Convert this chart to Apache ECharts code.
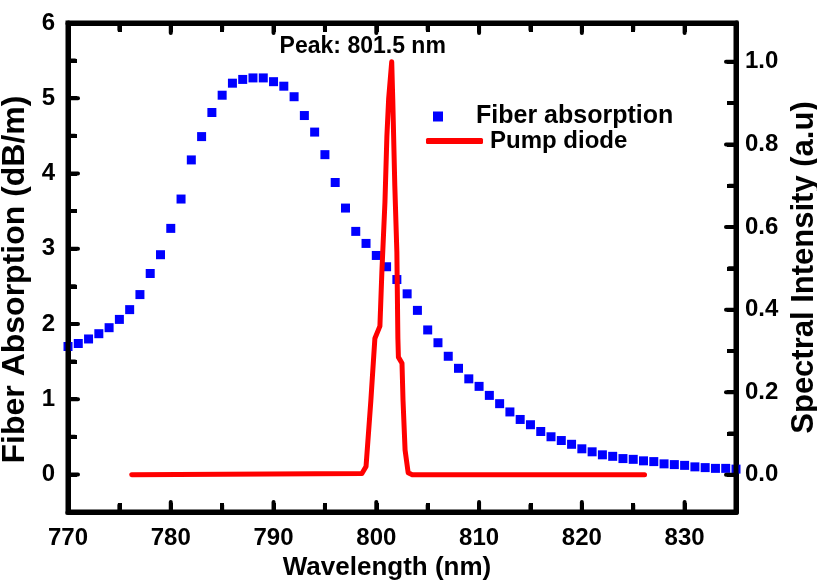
<!DOCTYPE html>
<html>
<head>
<meta charset="utf-8">
<script src="https://cdn.jsdelivr.net/npm/echarts@6/dist/echarts.min.js"></script>
<style>
  html, body { margin: 0; padding: 0; background: #fff; }
  #chart { width: 817px; height: 581px; }
</style>
</head>
<body>
<div id="chart"></div>
<script>
// Fiber absorption spectrum (dB/m), sampled every nm
const absWavelength = [
  770, 771, 772, 773, 774, 775, 776, 777, 778, 779,
  780, 781, 782, 783, 784, 785, 786, 787, 788, 789,
  790, 791, 792, 793, 794, 795, 796, 797, 798, 799,
  800, 801, 802, 803, 804, 805, 806, 807, 808, 809,
  810, 811, 812, 813, 814, 815, 816, 817, 818, 819,
  820, 821, 822, 823, 824, 825, 826, 827, 828, 829,
  830, 831, 832, 833, 834, 835
];
const absValue = [
  1.70, 1.74, 1.80, 1.87, 1.95, 2.06, 2.19, 2.39, 2.67, 2.92,
  3.27, 3.66, 4.18, 4.49, 4.81, 5.04, 5.20, 5.25, 5.27, 5.27,
  5.22, 5.16, 5.02, 4.77, 4.55, 4.25, 3.88, 3.54, 3.23, 3.07,
  2.91, 2.76, 2.59, 2.40, 2.18, 1.92, 1.75, 1.57, 1.41, 1.27,
  1.17, 1.05, 0.94, 0.83, 0.73, 0.66, 0.57, 0.50, 0.45, 0.40,
  0.34, 0.30, 0.26, 0.24, 0.21, 0.20, 0.18, 0.17, 0.14, 0.13,
  0.12, 0.10, 0.09, 0.08, 0.08, 0.07
];

// Pump diode emission spectrum (normalised)
const pumpWavelength = [
  776.2, 798.6, 799.0, 799.47, 799.86, 800.35, 800.54, 800.84, 801.03, 801.2,
  801.5, 801.6, 801.8, 802.0, 802.1, 802.15, 802.5, 802.6, 802.8, 803.1,
  803.5, 826.1
];
const pumpIntensity = [
  0.0, 0.003, 0.02, 0.18, 0.33, 0.36, 0.49, 0.66, 0.82, 0.91,
  1.0, 0.91, 0.70, 0.54, 0.33, 0.285, 0.27, 0.18, 0.06, 0.005,
  0.0, 0.0
];

// Labelled ticks and all tick marks (major + minor)
const xLabels = [770, 780, 790, 800, 810, 820, 830];
const xTicks = [770, 775, 780, 785, 790, 795, 800, 805, 810, 815, 820, 825, 830];
const leftLabels = [0, 1, 2, 3, 4, 5, 6];
const leftTicks = [0, 0.5, 1, 1.5, 2, 2.5, 3, 3.5, 4, 4.5, 5, 5.5, 6];
const rightLabels = [0, 0.2, 0.4, 0.6, 0.8, 1.0];
const rightTicks = [0, 0.1, 0.2, 0.3, 0.4, 0.5, 0.6, 0.7, 0.8, 0.9, 1.0];

const seriesNames = ['Fiber absorption', 'Pump diode'];
const axisTitles = {
  x: 'Wavelength (nm)',
  left: 'Fiber Absorption (dB/m)',
  right: 'Spectral Intensity (a.u)'
};

const FONT = "'Liberation Sans', Arial, Helvetica, sans-serif";
const BLACK = '#000';

const xRange = { min: 770, max: 835 };
const leftRange = { min: -0.5, max: 6 };
const rightRange = { min: -0.09, max: 1.094 };

const absData = absWavelength.map((w, i) => [w, absValue[i]]);
const pumpData = pumpWavelength.map((w, i) => [w, pumpIntensity[i]]);
let peakIdx = 0;
pumpIntensity.forEach((v, i) => { if (v > pumpIntensity[peakIdx]) peakIdx = i; });
const peakWl = pumpWavelength[peakIdx];

const labelStyle = { color: BLACK, fontFamily: FONT, fontWeight: 'bold', fontSize: 24 };
const titleStyle = { color: BLACK, fontFamily: FONT, fontWeight: 'bold' };

// Heavy plot frame with inward tick marks, positioned through the axis scales
function frameRenderer(side) {
  return function (params, api) {
    const cs = params.coordSys;
    const x0 = cs.x, x1 = cs.x + cs.width, y0 = cs.y, y1 = cs.y + cs.height;
    const children = [];
    const tick = (xa, ya, xb, yb) => children.push({
      type: 'line',
      shape: { x1: xa, y1: ya, x2: xb, y2: yb },
      style: { stroke: BLACK, lineWidth: 4, lineCap: 'round' }
    });
    if (side === 'left') {
      children.push({
        type: 'rect',
        shape: { x: x0, y: y0, width: cs.width, height: cs.height },
        style: { fill: 'none', stroke: BLACK, lineWidth: 5 }
      });
      xTicks.forEach(v => {
        const len = xLabels.indexOf(v) >= 0 ? 10 : 7;
        const px = api.coord([v, leftRange.min])[0];
        tick(px, y1, px, y1 - len);
        tick(px, y0, px, y0 + len);
      });
      leftTicks.forEach(v => {
        const len = leftLabels.indexOf(v) >= 0 ? 10 : 7;
        const py = api.coord([xRange.min, v])[1];
        tick(x0, py, x0 + len, py);
      });
    } else {
      rightTicks.forEach(v => {
        const len = rightLabels.indexOf(v) >= 0 ? 10 : 7;
        const py = api.coord([xRange.min, v])[1];
        tick(x1, py, x1 - len, py);
      });
    }
    return { type: 'group', children: children };
  };
}

const chart = echarts.init(document.getElementById('chart'));

chart.setOption({
  backgroundColor: '#fff',
  animation: false,
  grid: { left: 68, right: 81, top: 23, bottom: 69, outerBoundsMode: 'none' },
  legend: [
    {
      data: [seriesNames[0]],
      left: 433, top: 104, padding: 0,
      icon: 'rect', itemWidth: 10, itemHeight: 10,
      selectedMode: false,
      textStyle: { color: BLACK, fontFamily: FONT, fontWeight: 'bold', fontSize: 25, padding: [0, 0, 0, 28] }
    },
    {
      data: [seriesNames[1]],
      left: 426, top: 129, padding: 0,
      icon: 'roundRect', itemWidth: 57, itemHeight: 6,
      selectedMode: false,
      textStyle: { color: BLACK, fontFamily: FONT, fontWeight: 'bold', fontSize: 24, padding: [0, 0, 0, 2] }
    }
  ],
  xAxis: [
    {
      type: 'value', min: xRange.min, max: xRange.max, position: 'bottom',
      axisLine: { show: true, onZero: false, lineStyle: { color: BLACK, width: 5 } },
      axisTick: { show: true, inside: true, length: 9, customValues: xTicks, lineStyle: { color: BLACK, width: 4 } },
      axisLabel: Object.assign({ margin: 14, customValues: xLabels }, labelStyle),
      splitLine: { show: false },
      name: axisTitles.x, nameLocation: 'middle', nameGap: 36,
      nameTextStyle: Object.assign({ fontSize: 26, padding: [0, 30, 0, 0] }, titleStyle)
    },
    {
      type: 'value', min: xRange.min, max: xRange.max, position: 'top',
      axisLine: { show: true, onZero: false, lineStyle: { color: BLACK, width: 5 } },
      axisTick: { show: true, inside: true, length: 9, customValues: xTicks, lineStyle: { color: BLACK, width: 4 } },
      axisLabel: { show: false },
      splitLine: { show: false }
    }
  ],
  yAxis: [
    {
      type: 'value', min: leftRange.min, max: leftRange.max, position: 'left',
      axisLine: { show: true, onZero: false, lineStyle: { color: BLACK, width: 5 } },
      axisTick: { show: true, inside: true, length: 9, customValues: leftTicks, lineStyle: { color: BLACK, width: 4 } },
      axisLabel: Object.assign({ margin: 13, customValues: leftLabels, formatter: v => String(Math.round(v)) }, labelStyle),
      splitLine: { show: false },
      name: axisTitles.left, nameLocation: 'middle', nameGap: 28, nameRotate: 90,
      nameTextStyle: Object.assign({ fontSize: 32, padding: [0, 24, 0, 0] }, titleStyle)
    },
    {
      type: 'value', min: rightRange.min, max: rightRange.max, position: 'right',
      axisLine: { show: true, onZero: false, lineStyle: { color: BLACK, width: 5 } },
      axisTick: { show: true, inside: true, length: 9, customValues: rightTicks, lineStyle: { color: BLACK, width: 4 } },
      axisLabel: Object.assign({ margin: 9, customValues: rightLabels, formatter: v => v.toFixed(1) }, labelStyle),
      splitLine: { show: false },
      name: axisTitles.right, nameLocation: 'middle', nameGap: 52, nameRotate: 90,
      nameTextStyle: Object.assign({ fontSize: 31 }, titleStyle)
    }
  ],
  series: [
    {
      name: seriesNames[0],
      type: 'scatter',
      xAxisIndex: 0, yAxisIndex: 0,
      symbol: 'rect', symbolSize: 9,
      itemStyle: { color: '#0000ff', opacity: 1 },
      data: absData,
      z: 2
    },
    {
      name: seriesNames[1],
      type: 'line',
      xAxisIndex: 0, yAxisIndex: 1,
      showSymbol: false, symbol: 'none',
      lineStyle: { color: '#ff0000', width: 5, cap: 'round', join: 'round' },
      itemStyle: { color: '#ff0000' },
      data: pumpData,
      z: 3,
      markPoint: {
        symbol: 'circle', symbolSize: 0,
        silent: true,
        data: [{ coord: [peakWl, pumpIntensity[peakIdx]] }],
        label: {
          show: true, position: 'top', distance: 4, offset: [-29, 0],
          formatter: 'Peak: ' + peakWl + ' nm',
          color: BLACK, fontFamily: FONT, fontWeight: 'bold', fontSize: 23
        }
      }
    },
    {
      name: 'frame',
      type: 'custom',
      coordinateSystem: 'cartesian2d',
      xAxisIndex: 0, yAxisIndex: 0,
      silent: true, clip: false, z: 5,
      renderItem: frameRenderer('left'),
      data: [[xRange.min, 0]]
    },
    {
      name: 'frameRight',
      type: 'custom',
      coordinateSystem: 'cartesian2d',
      xAxisIndex: 0, yAxisIndex: 1,
      silent: true, clip: false, z: 5,
      renderItem: frameRenderer('right'),
      data: [[xRange.min, 0]]
    }
  ]
});
</script>
</body>
</html>
